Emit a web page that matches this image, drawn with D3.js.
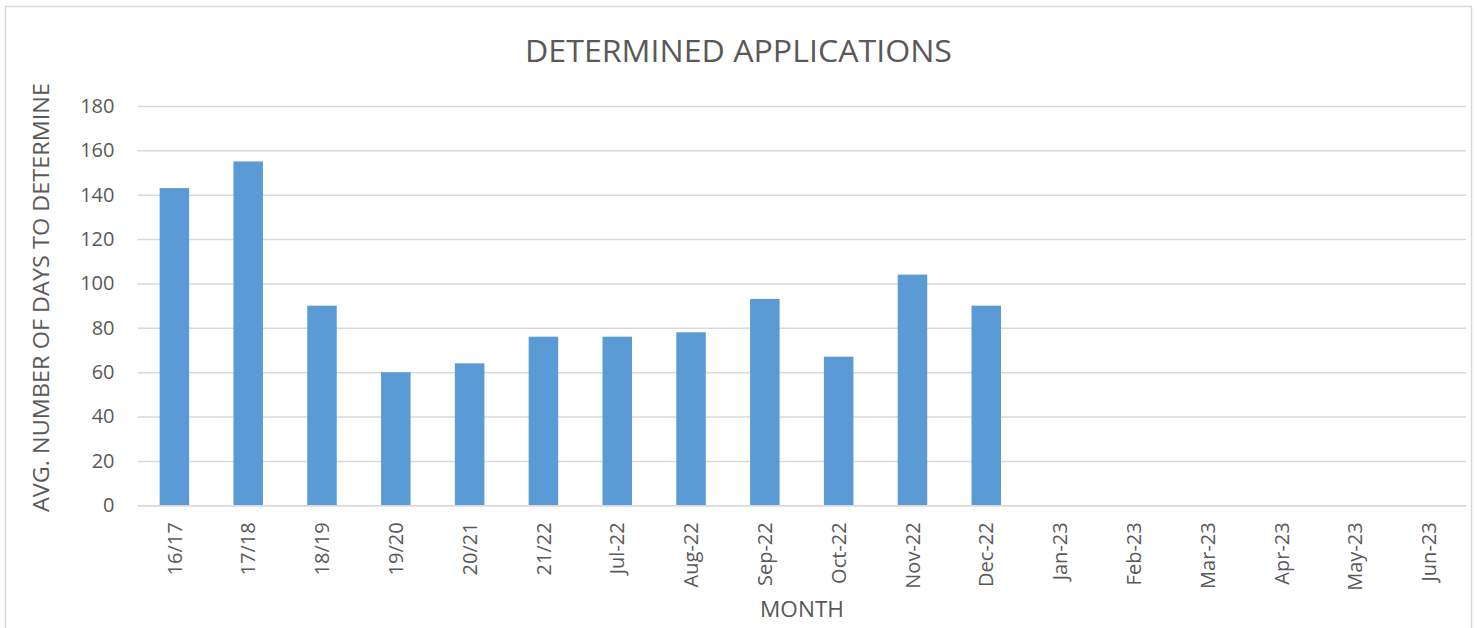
<!DOCTYPE html>
<html><head><meta charset="utf-8">
<script src="https://cdn.jsdelivr.net/npm/d3@7"></script>
<style>body{margin:0;background:#fff;}svg{display:block;}</style>
</head><body>
<svg id="c" width="1477" height="628"></svg>
<script>
const categories = ["16/17","17/18","18/19","19/20","20/21","21/22","Jul-22","Aug-22","Sep-22","Oct-22","Nov-22","Dec-22","Jan-23","Feb-23","Mar-23","Apr-23","May-23","Jun-23"];
const values = [143,155,90,60,64,76,76,78,93,67,104,90,null,null,null,null,null,null];
const yTicks = [0,20,40,60,80,100,120,140,160,180];
const title = "DETERMINED APPLICATIONS";
const yTitle = "AVG. NUMBER OF DAYS TO DETERMINE";
const xTitle = "MONTH";

const svg = d3.select("#c");
const font = "'Open Sans', sans-serif";
const txt = "#595959";
svg.append("rect").attr("x",5.5).attr("y",6.5).attr("width",1466).attr("height",628).attr("fill","none").attr("stroke","#d9d9d9").attr("stroke-width",1.5);

const L=137.5, R=1466, T=106, B=505.3;
const x = d3.scaleBand().domain(categories).range([L,R]).paddingInner(0.6).paddingOuter(0.3);
const y = d3.scaleLinear().domain([0,180]).range([B,T]);

const yAxis = d3.axisLeft(y).tickValues(yTicks).tickSize(-(R-L)).tickPadding(23);
const gy = svg.append("g").attr("transform",`translate(${L},0)`).call(yAxis);
gy.select(".domain").remove();
gy.selectAll(".tick line").attr("stroke","#d9d9d9").attr("stroke-width",1.5);
gy.selectAll(".tick text").attr("fill",txt).style("font-family",font).style("font-size","20px");

svg.append("g").selectAll("rect").data(categories.map((c,i)=>({c,v:values[i]})).filter(d=>d.v!=null))
  .join("rect").attr("x",d=>x(d.c)).attr("width",x.bandwidth())
  .attr("y",d=>y(d.v)).attr("height",d=>B-y(d.v)).attr("fill","#5b9bd5");

const xAxis = d3.axisBottom(x).tickSize(0).tickPadding(0);
const gx = svg.append("g").attr("transform",`translate(0,${B})`).call(xAxis);
gx.select(".domain").attr("stroke","#d9d9d9").attr("stroke-width",1.5);
gx.selectAll(".tick text").attr("fill",txt).style("font-family",font).style("font-size","20px")
  .attr("text-anchor","end").attr("dy","0.36em").attr("transform","translate(0,17) rotate(-90)").attr("y",0).attr("x",0);

svg.append("text").attr("x",738.5).attr("y",62).attr("text-anchor","middle").attr("fill",txt)
  .attr("textLength",427).attr("lengthAdjust","spacingAndGlyphs")
  .style("font-family",font).style("font-size","31px").text(title);
svg.append("text").attr("transform",`translate(48.5,297.5) rotate(-90)`).attr("text-anchor","middle").attr("fill",txt)
  .attr("textLength",429).attr("lengthAdjust","spacingAndGlyphs")
  .style("font-family",font).style("font-size","21px").text(yTitle);
svg.append("text").attr("x",802).attr("y",616.5).attr("text-anchor","middle").attr("fill",txt)
  .attr("textLength",84).attr("lengthAdjust","spacingAndGlyphs")
  .style("font-family",font).style("font-size","21px").text(xTitle);
</script>
</body></html>
